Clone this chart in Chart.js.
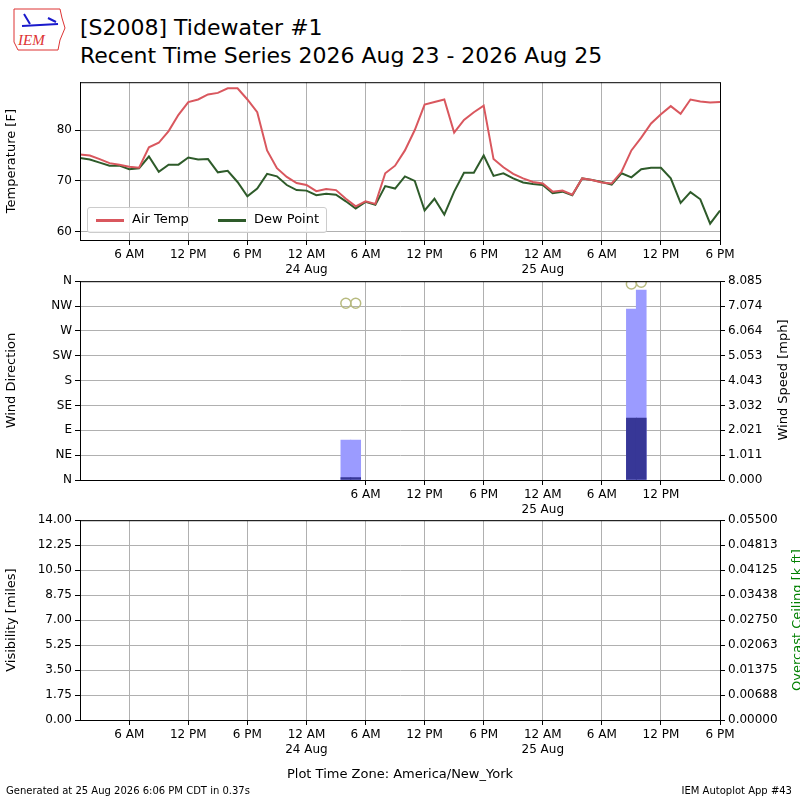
<!DOCTYPE html>
<html>
<head>
<meta charset="utf-8">
<script src="https://cdn.jsdelivr.net/npm/chart.js@4.4.0/dist/chart.umd.min.js"></script>
<style>
  body { margin: 0; width: 800px; height: 800px; background: #fff; font-family: "DejaVu Sans", sans-serif; position: relative; overflow: hidden; }
  canvas { position: absolute; left: 0; }
  .txt { position: absolute; white-space: nowrap; color: #000; }
  .rtitle { position: absolute; white-space: nowrap; font-size: 13px; transform: translate(-50%, -50%) rotate(-90deg); }
</style>
</head>
<body>

<!-- header -->
<div class="txt" style="left:10px;top:6px;width:52px;height:42px;">
  <svg width="56" height="46" viewBox="0 0 56 46">
    <path d="M4 3 L50 3 L52 12 L55 22 L50 34 L48 44 L8 44 L4 36 Z" fill="none" stroke="#d33" stroke-width="1"/>
    <line x1="12" y1="20" x2="48" y2="18" stroke="#1a1acc" stroke-width="2"/>
    <path d="M14 8 L20 18 M38 12 L46 16" stroke="#1a1acc" stroke-width="2"/>
    <text x="8" y="39" font-family="Liberation Serif" font-style="italic" font-size="15" fill="#d33">IEM</text>
  </svg>
</div>
<div class="txt" style="left:80px;top:14px;font-size:22px;line-height:28px;">[S2008] Tidewater #1<br>Recent Time Series 2026 Aug 23 - 2026 Aug 25</div>

<canvas id="tempChart" width="800" height="210" style="top:72px;"></canvas>
<canvas id="windChart" width="800" height="251" style="top:271px;"></canvas>
<canvas id="visChart" width="800" height="252" style="top:510px;"></canvas>

<!-- legend of top panel -->
<div class="txt" style="left:87px;top:207px;width:238px;height:24px;border:1px solid #ccc;border-radius:3px;background:rgba(255,255,255,0.8);font-size:13px;">
  <span style="position:absolute;left:8px;top:11px;width:28px;height:3px;background:#d9575e;"></span>
  <span style="position:absolute;left:44px;top:3px;">Air Temp</span>
  <span style="position:absolute;left:130px;top:11px;width:28px;height:3px;background:#2e5b2a;"></span>
  <span style="position:absolute;left:166px;top:3px;">Dew Point</span>
</div>

<!-- right axis titles (read bottom to top) -->
<div class="rtitle" style="left:782px;top:380px;">Wind Speed [mph]</div>
<div class="rtitle" style="left:796px;top:620px;color:#008000;">Overcast Ceiling [k ft]</div>

<div class="txt" style="left:0;width:800px;text-align:center;top:766px;font-size:13px;">Plot Time Zone: America/New_York</div>
<div class="txt" style="left:6px;top:785px;font-size:10px;">Generated at 25 Aug 2026 6:06 PM CDT in 0.37s</div>
<div class="txt" style="right:8px;top:785px;font-size:10px;">IEM Autoplot App #43</div>

<script>
/* ==========================================
   DATA (hours since 2026-08-23 00:00)
========================================== */

const hours = [];
for (let h = 1; h <= 66; h++) hours.push(h);

const airTemp = [
    75.2, 75.0, 74.3, 73.5, 73.2, 72.8, 72.6, 76.6, 77.5, 79.8,
    83.0, 85.5, 86.0, 87.0, 87.3, 88.2, 88.2, 86.0, 83.5, 76.0,
    72.5, 70.8, 69.6, 69.2, 68.0, 68.4, 68.2, 66.5, 65.0, 66.0,
    65.5, 71.5, 73.0, 76.0, 80.0, 85.0, 85.5, 86.0, 79.5, 82.0,
    83.5, 84.8, 74.3, 72.7, 71.4, 70.5, 69.8, 69.5, 67.9, 68.1,
    67.3, 70.5, 70.2, 69.7, 69.5, 71.8, 76.0, 78.5, 81.3, 83.1,
    84.7, 83.2, 86.0, 85.6, 85.4, 85.5
];

const dewPoint = [
    74.5, 74.2, 73.6, 73.0, 73.0, 72.3, 72.5, 74.8, 71.8, 73.2,
    73.2, 74.6, 74.2, 74.3, 71.7, 72.0, 69.8, 67.0, 68.5, 71.4,
    70.9, 69.2, 68.2, 68.1, 67.2, 67.5, 67.3, 66.0, 64.6, 65.9,
    65.3, 69.0, 68.5, 70.9, 70.0, 64.2, 66.5, 63.4, 67.9, 71.6,
    71.6, 75.0, 71.0, 71.5, 70.5, 69.7, 69.4, 69.2, 67.6, 67.9,
    67.2, 70.5, 70.2, 69.8, 69.3, 71.5, 70.7, 72.3, 72.6, 72.6,
    70.5, 65.7, 67.8, 66.4, 61.6, 64.2
];

// wind (only hours with observations)
const windHours = [28, 29, 57, 58];
const windSpeed = [0.1, 0.1, 2.52, 2.52];
const windGust = [1.62, 1.62, 6.95, 7.72];
const windDir = [320, 320, 355, 358];

const timeTicks = [6, 12, 18, 24, 30, 36, 42, 48, 54, 60, 66];
const windTimeTicks = [30, 36, 42, 48, 54, 60];
const tempTicks = [60, 70, 80];
const dirLabels = ["N", "NE", "E", "SE", "S", "SW", "W", "NW", "N"];
const speedMax = 8.085;
const visMax = 14;
const ceilMax = 0.055;

/* ==========================================
   COMMON HELPERS
========================================== */

Chart.defaults.font.family = "DejaVu Sans";
Chart.defaults.font.size = 12;
Chart.defaults.color = "#000";

const gridColor = "#b0b0b0";

// black frame around each plot area
const frame = {
    id: "frame",
    afterDraw(chart) {
        const a = chart.chartArea;
        const ctx = chart.ctx;
        ctx.save();
        ctx.strokeStyle = "#000";
        ctx.lineWidth = 1;
        ctx.strokeRect(a.left + 0.5, a.top + 0.5, a.right - a.left, a.bottom - a.top);
        ctx.restore();
    }
};
Chart.register(frame);

function timeLabel(v) {
    const h = ((v % 24) + 24) % 24;
    if (h === 6) return "6 AM";
    if (h === 12) return "12 PM";
    if (h === 18) return "6 PM";
    if (h === 0) return ["12 AM", (23 + v / 24) + " Aug"];
    return "";
}

function timeAxis(ticksList) {
    return {
        type: "linear",
        min: 1,
        max: 66,
        offset: false,
        afterBuildTicks: (axis) => { axis.ticks = ticksList.map(v => ({ value: v })); },
        afterFit: (axis) => { axis.height = 42; },
        ticks: { callback: timeLabel, maxRotation: 0, autoSkip: false, color: "#000" },
        grid: { color: gridColor, tickColor: "#000", tickLength: 5, offset: false },
        border: { color: "#000" }
    };
}

function sideAxis(pos, extra) {
    return Object.assign({
        position: pos,
        afterFit: (axis) => { axis.width = 80; },
        border: { color: "#000" },
        grid: { color: gridColor, tickColor: "#000", tickLength: 5, drawOnChartArea: pos === "left" }
    }, extra);
}

function evenTicks(max, digits) {
    return {
        afterBuildTicks: (axis) => {
            const t = [];
            for (let k = 0; k <= 8; k++) t.push({ value: max * k / 8 });
            axis.ticks = t;
        },
        ticks: { callback: (v) => v.toFixed(digits) }
    };
}

const baseOptions = {
    responsive: false,
    animation: false,
    devicePixelRatio: 1,
    plugins: { legend: { display: false }, tooltip: { enabled: false } }
};

/* ==========================================
   TEMPERATURE PANEL
========================================== */

new Chart(document.getElementById("tempChart"), {
    type: "line",
    data: {
        datasets: [
            {
                label: "Air Temp",
                data: hours.map((h, i) => ({ x: h, y: airTemp[i] })),
                borderColor: "#d9575e",
                borderWidth: 2,
                pointRadius: 0,
                tension: 0
            },
            {
                label: "Dew Point",
                data: hours.map((h, i) => ({ x: h, y: dewPoint[i] })),
                borderColor: "#2e5b2a",
                borderWidth: 2,
                pointRadius: 0,
                tension: 0
            }
        ]
    },
    options: Object.assign({}, baseOptions, {
        layout: { padding: { top: 10, right: 80 } },
        scales: {
            x: timeAxis(timeTicks),
            y: sideAxis("left", {
                min: 58.4,
                max: 89.4,
                afterBuildTicks: (axis) => { axis.ticks = tempTicks.map(v => ({ value: v })); },
                title: { display: true, text: "Temperature [F]", font: { size: 13 } }
            })
        }
    })
});

/* ==========================================
   WIND PANEL
========================================== */

new Chart(document.getElementById("windChart"), {
    data: {
        datasets: [
            {
                type: "scatter",
                data: windHours.map((h, i) => ({ x: h, y: windDir[i] })),
                yAxisID: "y",
                pointRadius: 5,
                pointBorderWidth: 1.5,
                pointBorderColor: "#b8bb80",
                pointBackgroundColor: "rgba(0,0,0,0)",
                order: 0
            },
            {
                type: "bar",
                data: windHours.map((h, i) => ({ x: h, y: windSpeed[i] })),
                yAxisID: "y1",
                backgroundColor: "#373797",
                barThickness: 10,
                grouped: false,
                order: 1
            },
            {
                type: "bar",
                data: windHours.map((h, i) => ({ x: h, y: windGust[i] })),
                yAxisID: "y1",
                backgroundColor: "#9b9bff",
                barThickness: 10,
                grouped: false,
                order: 2
            }
        ]
    },
    options: Object.assign({}, baseOptions, {
        layout: { padding: { top: 10 } },
        scales: {
            x: timeAxis(windTimeTicks),
            y: sideAxis("left", {
                min: 0,
                max: 360,
                ticks: { stepSize: 45, callback: (v) => dirLabels[v / 45] },
                title: { display: true, text: "Wind Direction", font: { size: 13 } }
            }),
            y1: sideAxis("right", Object.assign({ min: 0, max: speedMax }, evenTicks(speedMax, 3)))
        }
    })
});

/* ==========================================
   VISIBILITY / CEILING PANEL
========================================== */

new Chart(document.getElementById("visChart"), {
    type: "line",
    data: {
        datasets: [
            { data: [], yAxisID: "y" },
            { data: [], yAxisID: "y1" }
        ]
    },
    options: Object.assign({}, baseOptions, {
        layout: { padding: { top: 10 } },
        scales: {
            x: timeAxis(timeTicks),
            y: sideAxis("left", Object.assign({
                min: 0,
                max: visMax,
                title: { display: true, text: "Visibility [miles]", font: { size: 13 } }
            }, evenTicks(visMax, 2))),
            y1: sideAxis("right", Object.assign({ min: 0, max: ceilMax }, evenTicks(ceilMax, 5)))
        }
    })
});
</script>
</body>
</html>
